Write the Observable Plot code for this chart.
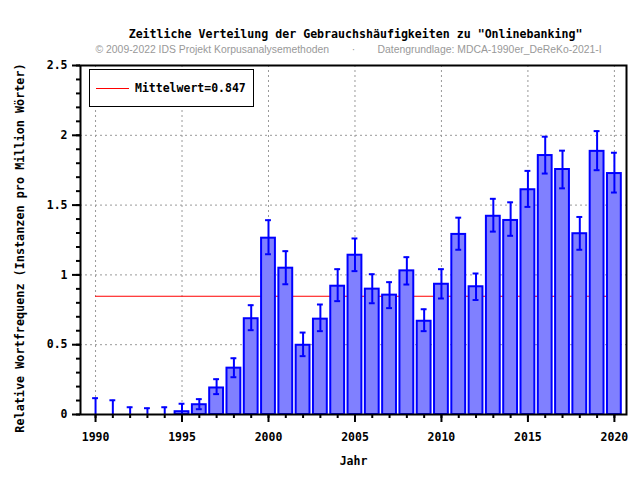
<!DOCTYPE html>
<html>
<head>
<meta charset="utf-8">
<script src="https://cdn.jsdelivr.net/npm/d3@7"></script>
<script src="https://cdn.jsdelivr.net/npm/@observablehq/plot@0.6"></script>
<style>
  html, body { margin: 0; padding: 0; background: #fff; }
  #wrap { position: relative; width: 640px; height: 480px; }
  #legend { position: absolute; left: 89px; top: 69px; width: 163px; height: 36px; border: 1px solid #000; background: #fff; font-family: "DejaVu Sans Mono", monospace; font-weight: bold; font-size: 11.5px; }
  #legend .swatch { position: absolute; left: 6px; top: 18px; width: 33px; height: 1px; background: #ff0000; }
  #legend .lbl { position: absolute; left: 45px; top: 11px; line-height: 14px; white-space: nowrap; }
</style>
</head>
<body>
<div id="wrap"></div>
<script>
const title = "Zeitliche Verteilung der Gebrauchshäufigkeiten zu \"Onlinebanking\"";
const subLeft = "© 2009-2022 IDS Projekt Korpusanalysemethoden";
const subDot = "·";
const subRight = "Datengrundlage: MDCA-1990er_DeReKo-2021-I";
const xLabel = "Jahr";
const yLabel = "Relative Wortfrequenz (Instanzen pro Million Wörter)";
const meanValue = 0.847;
const legendLabel = "Mittelwert=0.847";

const years = [1990,1991,1992,1993,1994,1995,1996,1997,1998,1999,2000,2001,2002,2003,2004,2005,2006,2007,2008,2009,2010,2011,2012,2013,2014,2015,2016,2017,2018,2019,2020];
const values = [0,0,0,0,0,0.02,0.07,0.19,0.332,0.686,1.263,1.048,0.496,0.683,0.919,1.141,0.898,0.855,1.029,0.668,0.933,1.29,0.915,1.42,1.39,1.61,1.855,1.755,1.295,1.885,1.726];
const errHigh = [0.117,0.102,0.052,0.045,0.052,0.077,0.11,0.253,0.403,0.783,1.392,1.17,0.587,0.788,1.041,1.261,1.005,0.948,1.127,0.754,1.041,1.41,1.01,1.545,1.52,1.745,1.99,1.89,1.415,2.03,1.875];
const errLow = [0,0,0,0,0,0,0.038,0.146,0.267,0.604,1.148,0.933,0.418,0.597,0.812,1.027,0.797,0.762,0.931,0.597,0.831,1.18,0.82,1.31,1.28,1.487,1.726,1.62,1.18,1.75,1.59];
const xMajorTicks = [1990,1995,2000,2005,2010,2015,2020];
const yMajorTicks = [0,0.5,1,1.5,2,2.5];
const yMinorTicks = [0,0.1,0.2,0.3,0.4,0.5,0.6,0.7,0.8,0.9,1,1.1,1.2,1.3,1.4,1.5,1.6,1.7,1.8,1.9,2,2.1,2.2,2.3,2.4,2.5];
const yGrid = [0.5,1,1.5,2];

const data = years.map((year, i) => ({year, value: values[i], lo: errLow[i], hi: errHigh[i]}));
const barColor = "#8080ff", edgeColor = "#0000ff";
const mono = "'DejaVu Sans Mono', monospace";
const sans = "'Liberation Sans', Arial, sans-serif";

const chart = Plot.plot({
  width: 640, height: 480,
  marginLeft: 80, marginRight: 14, marginTop: 65, marginBottom: 66,
  x: {domain: [1989.13, 2020.7]},
  y: {domain: [0, 2.5]},
  style: {fontFamily: mono, fontWeight: "bold", fontSize: "11.5px", background: "#fff", color: "#000"},
  marks: [
    Plot.gridX(xMajorTicks, {stroke: "#999", strokeOpacity: 1, strokeDasharray: "2,3"}),
    Plot.gridY(yGrid, {stroke: "#999", strokeOpacity: 1, strokeDasharray: "2,3"}),
    Plot.ruleY([meanValue], {x1: years[0], x2: years[years.length - 1], stroke: "#ff0000", strokeWidth: 1}),
    Plot.rectY(data, {x1: d => d.year - 0.4, x2: d => d.year + 0.4, y: "value", fill: barColor, stroke: edgeColor, strokeWidth: 2}),
    Plot.ruleX(data, {x: "year", y1: "lo", y2: "hi", stroke: edgeColor, strokeWidth: 2}),
    Plot.ruleY(data, {y: "hi", x1: d => d.year - 0.17, x2: d => d.year + 0.17, stroke: edgeColor, strokeWidth: 2}),
    Plot.ruleY(data.filter(d => d.lo > 0), {y: "lo", x1: d => d.year - 0.17, x2: d => d.year + 0.17, stroke: edgeColor, strokeWidth: 2}),
    Plot.frame({stroke: "#000", strokeWidth: 2}),
    Plot.axisX(years, {tickSize: 4, tickFormat: () => "", strokeWidth: 2, label: null}),
    Plot.axisX(xMajorTicks, {tickSize: 8, tickPadding: 10, tickFormat: d => String(d), strokeWidth: 2, label: null, fontWeight: "bold"}),
    Plot.axisY(yMinorTicks, {tickSize: 4, tickFormat: () => "", strokeWidth: 2, label: null}),
    Plot.axisY(yMajorTicks, {tickSize: 8, tickPadding: 5, tickFormat: d => String(d), strokeWidth: 2, label: null, fontWeight: "bold"}),
    Plot.text([yLabel], {frameAnchor: "left", textAnchor: "middle", dx: -60, dy: 8, rotate: -90, fontWeight: "bold", fontSize: 11.8}),
    Plot.text([xLabel], {frameAnchor: "bottom", dy: 50, fontWeight: "bold", fontSize: 11.5}),
    Plot.text([title], {frameAnchor: "top", dx: 2, dy: -28, lineAnchor: "bottom", fontWeight: "bold", fontSize: 11.6}),
    Plot.text([subLeft], {frameAnchor: "top-left", dx: 15, dy: -13, lineAnchor: "bottom", textAnchor: "start", fontFamily: sans, fontWeight: "normal", fontSize: 10.4, fill: "#999"}),
    Plot.text([subDot], {frameAnchor: "top", dx: 0, dy: -13, lineAnchor: "bottom", fontFamily: sans, fontWeight: "normal", fontSize: 10.4, fill: "#999"}),
    Plot.text([subRight], {frameAnchor: "top", dx: 24, dy: -13, lineAnchor: "bottom", textAnchor: "start", fontFamily: sans, fontWeight: "normal", fontSize: 10.4, fill: "#999"})
  ]
});
const wrap = document.getElementById("wrap");
wrap.appendChild(chart);
const legend = document.createElement("div");
legend.id = "legend";
legend.innerHTML = '<div class="swatch"></div><div class="lbl"></div>';
legend.querySelector(".lbl").textContent = legendLabel;
wrap.appendChild(legend);
</script>
</body>
</html>
